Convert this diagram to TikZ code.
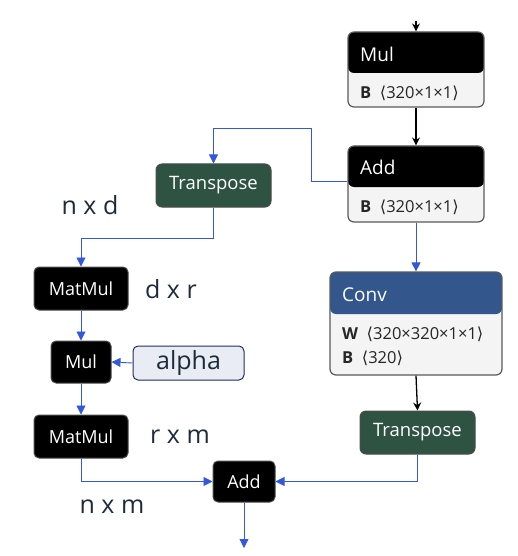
\documentclass[tikz,border=0pt]{standalone}
\usepackage{fontspec}
\setmainfont{Open Sans}
\newfontfamily\sym{DejaVu Sans}
\usetikzlibrary{arrows.meta}
\definecolor{tgreen}{HTML}{2F5342}
\definecolor{convblue}{HTML}{33568C}
\definecolor{bodygray}{HTML}{F4F4F4}
\definecolor{cblue}{HTML}{3358DE}
\definecolor{dimc}{HTML}{1C2B3C}
\definecolor{alphafill}{HTML}{E9ECF2}
\definecolor{alphadraw}{HTML}{1D2F5E}
\begin{document}
\begin{tikzpicture}[x=1pt,y=-1pt,
 blk/.style={draw=black!70, line width=1pt, rounded corners=5pt, fill=black, text=white, font=\fontsize{18}{18}\selectfont, inner sep=0pt},
 grn/.style={draw=black!70, line width=1pt, rounded corners=6pt, fill=tgreen, text=white, font=\fontsize{18.5}{18.5}\selectfont, minimum width=115pt, minimum height=43pt, inner sep=0pt},
 card/.style={draw=black!65, line width=1.2pt, rounded corners=6pt, fill=bodygray, inner sep=0pt},
 hdr/.style={anchor=west, text=white, font=\fontsize{19}{19}\selectfont, inner sep=0pt},
 attr/.style={anchor=west, text=black!85, font=\fontsize{16.5}{16.5}\selectfont, inner sep=0pt},
 blu/.style={draw=cblue, line width=0.9pt},
 barr/.style={blu, -{Triangle[length=9pt,width=9pt]}},
 karr/.style={draw=black, line width=1.3pt, -{Stealth[length=8pt,width=8pt]}},
 dim/.style={text=dimc, font=\fontsize{25}{25}\selectfont, inner sep=0pt}]
\useasboundingbox (0,0) rectangle (518,556);
% right column cards
\node[card, minimum width=136pt, minimum height=75pt,
  path picture={\fill[black] (path picture bounding box.north west) rectangle ([yshift=-41pt]path picture bounding box.north east);}] (mul1) at (416,69.5) {};
\node[hdr] (mul1t) at (360,54) {Mul};
\node[attr] (mul1b) at (360,93) {\textbf{B}\ \ {\sym ⟨}320×1×1{\sym ⟩}};
\node[card, minimum width=136pt, minimum height=76pt,
  path picture={\fill[black] (path picture bounding box.north west) rectangle ([yshift=-41pt]path picture bounding box.north east);}] (add1) at (416,184) {};
\node[hdr] (add1t) at (360,167) {Add};
\node[attr] (add1b) at (360,207) {\textbf{B}\ \ {\sym ⟨}320×1×1{\sym ⟩}};
\node[card, minimum width=172pt, minimum height=103pt,
  path picture={\fill[convblue] (path picture bounding box.north west) rectangle ([yshift=-42pt]path picture bounding box.north east);}] (conv) at (416,323.5) {};
\node[hdr] (convt) at (342,295) {Conv};
\node[attr] (convw) at (342,334) {\textbf{W}\ \ {\sym ⟨}320×320×1×1{\sym ⟩}};
\node[attr] (convb) at (342,358) {\textbf{B}\ \ {\sym ⟨}320{\sym ⟩}};
\node[grn] (tr2) at (417.5,432.5) {Transpose};
% left column
\node[grn] (tr1) at (213.5,185.5) {Transpose};
\node[blk, minimum width=94pt, minimum height=43pt] (mm1) at (81,288.5) {MatMul};
\node[blk, minimum width=60pt, minimum height=42pt] (mul2) at (81,362) {Mul};
\node[draw=alphadraw, line width=1pt, fill=alphafill, rounded corners=5pt, minimum width=111pt, minimum height=34pt, inner sep=0pt, text=dimc, font=\fontsize{25}{25}\selectfont] (alpha) at (188.5,363) {alpha};
\node[blk, minimum width=94pt, minimum height=43pt] (mm2) at (81,436.5) {MatMul};
\node[blk, minimum width=62pt, minimum height=41pt] (add2) at (244,481.5) {Add};
% labels
\node[dim] (lnd) at (90,205) {n x d};
\node[dim] (ldr) at (171,289) {d x r};
\node[dim] (lrm) at (180,437) {r x m};
\node[dim] (lnm) at (112,507) {n x m};
% connectors
\coordinate (top) at (416,21);
\coordinate (out) at (244,548);
\draw[karr] (top) -- (mul1.north);
\draw[karr] (mul1.south) -- (add1.north);
\draw[barr] ([yshift=3pt]add1.west) -- ++(-36,0) |- ([yshift=35pt]tr1.north) -- (tr1.north);
\draw[barr] (add1.south) -- (conv.north);
\draw[karr] (conv.south) -- (tr2.north);
\draw[barr] (tr1.south) |- ([yshift=28pt]mm1.north) -- (mm1.north);
\draw[barr] (mm1.south) -- (mul2.north);
\draw[barr] (alpha.west) -- (mul2.east);
\draw[barr] (mul2.south) -- (mm2.north);
\draw[barr] (mm2.south) |- (add2.west);
\draw[barr] (tr2.south) |- (add2.east);
\draw[barr] (add2.south) -- (out);
\end{tikzpicture}
\end{document}
